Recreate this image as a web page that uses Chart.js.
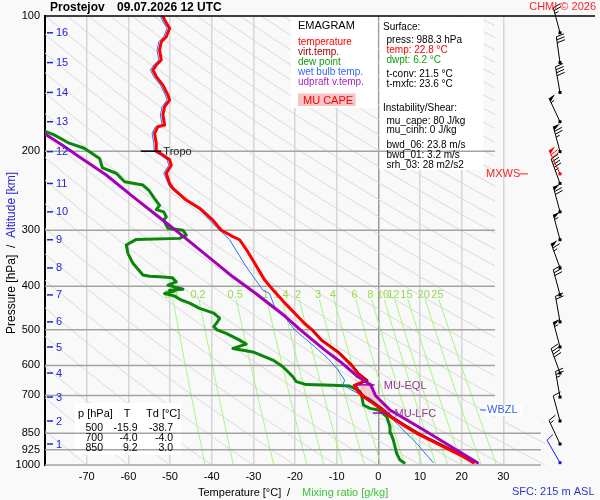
<!DOCTYPE html>
<html>
<head>
<meta charset="utf-8">
<script src="https://cdn.jsdelivr.net/npm/chart.js@4.4.1/dist/chart.umd.min.js"></script>
<style>
  html, body { margin: 0; padding: 0; background: #f9f9f9; }
</style>
</head>
<body>
<canvas id="emagram" width="600" height="500"></canvas>
<script>
// ---- sounding data ----
const pressTicks = [100, 200, 300, 400, 500, 600, 700, 850, 925, 1000];
const tempTicks = [-70, -60, -50, -40, -30, -20, -10, 0, 10, 20, 30];

const tempP = [988.3, 958, 910, 865, 850, 815, 780, 748, 725, 700, 680, 665, 648, 625, 600, 560, 527, 500, 484, 440, 408, 387, 350, 332, 315, 310, 300, 285, 268, 257, 242, 236, 224, 215, 209, 204, 200, 192, 182.5, 176.4, 174.9, 166.2, 159.2, 153.9, 150, 142.5, 136.5, 131.9, 128.6, 125.3, 119.1, 114.1, 111.2, 106.5, 102.1, 100];
const tempT = [22.8, 20.4, 15.6, 10.8, 9.2, 6.0, 2.8, 0.4, -1.6, -4.0, -5.2, -5.8, -2.8, -4.9, -6.4, -9.7, -13.7, -15.9, -17.7, -22.0, -25.2, -27.3, -30.1, -31.6, -33.3, -34.9, -37.7, -39.7, -42.9, -46.1, -49.3, -50.1, -50.9, -49.7, -50.1, -51.7, -53.3, -53.3, -53.7, -52.9, -51.3, -51.7, -51.3, -50.1, -50.5, -51.7, -53.3, -54.1, -53.3, -52.1, -52.5, -52.1, -50.9, -50.1, -51.3, -51.7];

const virtP = [988.3, 958, 910, 865, 850, 815, 780, 748, 725, 700, 680, 665, 648, 625, 600, 560, 527, 500];
const virtT = [23.7, 21.3, 16.4, 11.6, 10.0, 6.7, 3.5, 1.1, -1.0, -3.4, -4.7, -5.3, -2.4, -4.6, -6.1, -9.5, -13.5, -15.8];

const dewP = [988.3, 975, 942, 880, 850, 822, 780, 754, 748, 735, 700, 685, 667, 664, 662, 652, 636, 604, 584, 560, 550, 538, 527, 509, 500, 492, 480, 471, 459, 448, 436, 429, 420, 415, 410, 408, 406, 397.5, 391, 383, 381, 380, 377.5, 355.5, 337.7, 323.6, 314.5, 312.8, 307.5, 300, 297, 285, 280, 273, 270, 264, 255, 245, 238, 234, 224, 218, 207.6, 200, 197, 192, 184, 180];
const dewT = [6.2, 5.2, 4.4, 3.6, 3.0, 2.8, 2.0, 0.0, -2.0, -3.6, -4.0, -4.5, -6.9, -11.0, -17.3, -19.7, -20.5, -22.9, -25.3, -30.1, -34.9, -31.7, -33.3, -36.5, -38.7, -39.5, -38.6, -38.1, -39.5, -42.9, -45.3, -47.3, -49.0, -51.3, -48.9, -50.1, -46.9, -50.5, -48.5, -49.4, -52.5, -54.9, -56.5, -58.9, -60.1, -60.5, -58.1, -47.7, -46.1, -46.9, -50.5, -51.5, -50.9, -51.5, -53.3, -52.5, -53.7, -55.0, -56.5, -60.9, -62.9, -66.2, -66.9, -69.5, -70.6, -74.2, -77.8, -80.5];

const wetP = [988.3, 895, 822, 767, 735, 710, 700, 680, 663, 647, 614, 579, 545, 522, 500, 467, 444, 415, 408, 362, 315, 295, 270, 255, 240, 224, 215, 209, 204, 200, 192, 182.5, 176.4, 174.9, 166.2, 159.2, 153.9, 150, 142.5, 136.5, 131.9, 128.6, 125.3, 119.1, 114.1, 111.2, 106.5, 102.1, 100];
const wetT = [13.2, 9.2, 5.2, 2.0, 0.0, -2.0, -4.0, -6.5, -8.5, -8.1, -9.7, -12.1, -15.3, -17.7, -20.1, -22.5, -24.9, -26.1, -27.7, -31.7, -35.7, -38.9, -42.9, -46.9, -50.1, -51.5, -50.3, -50.7, -52.3, -53.8, -53.9, -54.3, -53.5, -51.9, -52.3, -51.9, -50.7, -51.1, -52.3, -53.9, -54.7, -53.9, -52.7, -53.1, -52.7, -51.5, -50.7, -51.9, -52.3];

const parcelP = [988.3, 926, 835, 754, 700, 663, 636, 592, 554, 509, 500, 467, 415, 381, 341, 305, 277.5, 252.6, 226, 205.8, 194, 182];
const parcelT = [23.8, 18.8, 10.8, 2.8, -0.7, -1.8, -4.9, -8.8, -12.9, -17.7, -18.7, -22.3, -29.4, -34.9, -41.3, -47.7, -53.3, -58.9, -65.3, -71.8, -75.8, -80.5];

// MU CAPE area between LFC and EQL
const capeP = [766, 748, 725, 700, 680, 663];
const capeEnvT = [1.6, 0.4, -1.6, -4.0, -5.2, -5.8];
const capeParcelT = [3.4, 2.2, 0.6, -0.7, -1.3, -1.8];

// altitude marks (km) and the pressure they sit at
const altKm = [1, 2, 3, 4, 5, 6, 7, 8, 9, 10, 11, 12, 13, 14, 15, 16];
const altP = [898, 798, 706, 624, 546, 480, 418, 364, 315, 273, 236, 200.5, 172, 148, 127, 109];

// winds: surface + each km level
const windP = [988.3, 898, 798, 706, 624, 546, 480, 418, 364, 315, 273, 236, 200.5, 172, 148, 127, 109];
const windDir = [330, 335, 345, 350, 340, 345, 350, 345, 340, 345, 345, 340, 345, 335, 350, 352, 345];
const windKt = [10, 15, 10, 25, 40, 55, 20, 30, 65, 55, 70, 45, 75, 55, 40, 30, 25];
const mxwsP = 224.7, mxwsDir = 335, mxwsKt = 70;

// diagram background: dry adiabats (theta, degC) and mixing ratio lines (g/kg)
const dryAdiabats = [-80, -70, -60, -50, -40, -30, -20, -10, 0, 10, 20, 30, 40, 50, 60, 70, 80, 90, 100, 110, 120, 130, 140, 150, 160, 170, 180, 190, 200, 210, 220, 230, 240, 250, 260, 270, 280, 290, 300, 310, 320];
const mixRatios = [0.1, 0.2, 0.5, 1, 1.4, 2, 3, 4, 6, 8, 10, 12, 15, 20, 25];

const FONT = '"Liberation Sans", Arial, sans-serif';

function text(ctx, s, x, y, color, size, align, bold) {
  ctx.font = (bold ? 'bold ' : '') + size + 'px ' + FONT;
  ctx.fillStyle = color;
  ctx.textAlign = align || 'left';
  ctx.textBaseline = 'middle';
  ctx.fillText(s, x, y);
}

function barb(ctx, x, y, dir, kt, color) {
  const L = 26, a = dir * Math.PI / 180;
  const ux = Math.sin(a), uy = -Math.cos(a);
  const px = -uy, py = ux;
  const tx = x + ux * L, ty = y + uy * L;
  ctx.strokeStyle = color; ctx.fillStyle = color; ctx.lineWidth = 1;
  ctx.beginPath(); ctx.moveTo(x, y); ctx.lineTo(tx, ty); ctx.stroke();
  ctx.fillRect(x - 1.5, y - 1.5, 3, 3);
  let s = Math.round(kt / 5) * 5, d = 0;
  const at = k => [tx - ux * k, ty - uy * k];
  while (s >= 50) {
    const [ax, ay] = at(d), [bx, by] = at(d + 4);
    ctx.beginPath(); ctx.moveTo(ax, ay); ctx.lineTo(ax + px * 7 + ux * 1, ay + py * 7 + uy * 1); ctx.lineTo(bx, by); ctx.closePath(); ctx.fill();
    d += 5; s -= 50;
  }
  while (s >= 10) {
    const [ax, ay] = at(d);
    ctx.beginPath(); ctx.moveTo(ax, ay); ctx.lineTo(ax + px * 8 + ux * 2, ay + py * 8 + uy * 2); ctx.stroke();
    d += 3; s -= 10;
  }
  if (s >= 5) {
    if (d === 0) d = 3;
    const [ax, ay] = at(d);
    ctx.beginPath(); ctx.moveTo(ax, ay); ctx.lineTo(ax + px * 4 + ux * 1, ay + py * 4 + uy * 1); ctx.stroke();
  }
}

const emagramPlugin = {
  id: 'emagram',
  beforeDraw(chart) {
    const ctx = chart.ctx;
    ctx.save();
    ctx.fillStyle = '#f9f9f9';
    ctx.fillRect(0, 0, chart.width, chart.height);
    ctx.restore();
  },
  beforeDatasetsDraw(chart) {
    const {ctx, chartArea: a, scales: {x, y}} = chart;
    const X = t => x.getPixelForValue(t), Y = p => y.getPixelForValue(p);
    const xCut = X(28), yCut = Y(800);

    // dry adiabats
    ctx.save();
    ctx.beginPath();
    ctx.rect(a.left, a.top, xCut - a.left, a.bottom - a.top);
    ctx.rect(xCut, yCut, a.right - xCut, a.bottom - yCut);
    ctx.clip();
    ctx.strokeStyle = '#d9d9d9'; ctx.lineWidth = 1;
    dryAdiabats.forEach(th => {
      ctx.beginPath();
      for (let p = 100; p <= 1000; p += 10) {
        const t = (th + 273.15) * Math.pow(p / 1000, 0.2857) - 273.15;
        if (p === 100) ctx.moveTo(X(t), Y(p)); else ctx.lineTo(X(t), Y(p));
      }
      ctx.stroke();
    });
    ctx.restore();

    // mixing ratio lines
    const tdOf = (w, p) => {
      const e = w * p / (622 + w), l = Math.log(e / 6.112);
      return 243.5 * l / (17.67 - l);
    };
    ctx.save();
    ctx.beginPath(); ctx.rect(a.left, a.top, a.right - a.left, a.bottom - a.top); ctx.clip();
    ctx.strokeStyle = '#a6f77e'; ctx.lineWidth = 1;
    mixRatios.forEach(w => {
      ctx.beginPath();
      for (let p = 428; p <= 1000; p += 16) {
        if (p === 428) ctx.moveTo(X(tdOf(w, p)), Y(p)); else ctx.lineTo(X(tdOf(w, p)), Y(p));
      }
      ctx.lineTo(X(tdOf(w, 1000)), Y(1000));
      ctx.stroke();
      text(ctx, String(w), X(tdOf(w, 418)), Y(418), '#96dc4a', 11, 'center');
    });
    ctx.restore();

    // white info boxes
    ctx.fillStyle = '#ffffff';
    ctx.fillRect(291, 17, 86, 91);
    ctx.fillRect(379.5, 17, 104, 153);
    ctx.fillRect(75, 403, 106, 52);
    ctx.fillRect(485, 405, 37, 11);

    // pressure lines
    ctx.strokeStyle = '#a3a3a3'; ctx.lineWidth = 1.5;
    pressTicks.forEach(p => {
      if (p === 100) return;
      ctx.beginPath();
      ctx.moveTo(a.left, Y(p));
      ctx.lineTo(p < 800 ? xCut : X(39), Y(p));
      ctx.stroke();
    });

    // MU CAPE area
    ctx.beginPath();
    capeP.forEach((p, i) => { const px = X(capeEnvT[i]), py = Y(p); i ? ctx.lineTo(px, py) : ctx.moveTo(px, py); });
    for (let i = capeP.length - 1; i >= 0; i--) ctx.lineTo(X(capeParcelT[i]), Y(capeP[i]));
    ctx.closePath();
    ctx.fillStyle = '#f7c9c9';
    ctx.fill();
  },
  afterDatasetsDraw(chart) {
    const {ctx, chartArea: a, scales: {x, y}} = chart;
    const X = t => x.getPixelForValue(t), Y = p => y.getPixelForValue(p);
    ctx.save();

    // top frame line
    ctx.strokeStyle = '#000'; ctx.lineWidth = 1.5;
    ctx.beginPath(); ctx.moveTo(a.left, Y(100)); ctx.lineTo(595, Y(100)); ctx.stroke();

    // altitude labels
    ctx.strokeStyle = '#2222dd'; ctx.lineWidth = 1.5;
    altKm.forEach((k, i) => {
      const yy = Y(altP[i]);
      ctx.beginPath(); ctx.moveTo(47, yy); ctx.lineTo(53, yy); ctx.stroke();
      text(ctx, String(k), 56, yy + 0.5, '#2222dd', 11);
    });

    // tropopause
    ctx.strokeStyle = '#000'; ctx.lineWidth = 1.5;
    ctx.beginPath(); ctx.moveTo(X(-57), Y(200)); ctx.lineTo(X(-52.1), Y(200)); ctx.stroke();
    text(ctx, 'Tropo', X(-51.6), Y(200) + 1, '#222', 11);

    // EQL / LFC
    ctx.strokeStyle = '#a400b8'; ctx.lineWidth = 1.5;
    ctx.beginPath(); ctx.moveTo(X(-5.4), Y(663)); ctx.lineTo(X(-0.9), Y(663)); ctx.stroke();
    ctx.beginPath(); ctx.moveTo(X(-1.3), Y(766)); ctx.lineTo(X(2.8), Y(766)); ctx.stroke();
    text(ctx, 'MU-EQL', X(1.3), Y(663) + 1, '#993399', 11);
    text(ctx, 'MU-LFC', X(3.9), Y(766) + 1, '#993399', 11);

    // MXWS and WBZL
    text(ctx, 'MXWS', 486, Y(mxwsP), '#ff2020', 11);
    ctx.strokeStyle = '#ff2020'; ctx.lineWidth = 1;
    ctx.beginPath(); ctx.moveTo(520, Y(mxwsP)); ctx.lineTo(528, Y(mxwsP)); ctx.stroke();
    ctx.strokeStyle = '#3366ee';
    ctx.beginPath(); ctx.moveTo(480, Y(754)); ctx.lineTo(486, Y(754)); ctx.stroke();
    text(ctx, 'WBZL', 487, Y(754) + 0.5, '#3366ee', 11);

    // wind barbs
    windP.forEach((p, i) => barb(ctx, 560, Y(p), windDir[i], windKt[i], i === 0 ? '#1a1aee' : '#000'));
    barb(ctx, 560, Y(mxwsP), mxwsDir, mxwsKt, '#ff0000');

    // legend box
    text(ctx, 'EMAGRAM', 298, 26, '#000', 11);
    text(ctx, 'temperature', 298, 42, '#ff0000', 10);
    text(ctx, 'virt.temp.', 298, 52, '#a00000', 10);
    text(ctx, 'dew point', 298, 62, '#119911', 10);
    text(ctx, 'wet bulb temp.', 298, 72, '#3366ff', 10);
    text(ctx, 'udpraft v.temp.', 298, 82, '#aa22cc', 10);
    ctx.fillStyle = '#f6c4c4';
    ctx.fillRect(298, 93.5, 57.5, 12.5);
    text(ctx, 'MU CAPE', 303, 100.5, '#ff0000', 11);

    // surface / instability box
    const sx = 383, ix = 386.5;
    text(ctx, 'Surface:', sx, 27.5, '#000', 10);
    text(ctx, 'press: 988.3 hPa', ix, 40, '#000', 10);
    text(ctx, 'temp: 22.8 \u00b0C', ix, 50, '#ff0000', 10);
    text(ctx, 'dwpt: 6.2 \u00b0C', ix, 60, '#119911', 10);
    text(ctx, 't-conv: 21.5 \u00b0C', ix, 74, '#000', 10);
    text(ctx, 't-mxfc: 23.6 \u00b0C', ix, 84.5, '#000', 10);
    text(ctx, 'Instability/Shear:', sx, 108.5, '#000', 10);
    text(ctx, 'mu_cape: 80 J/kg', ix, 121, '#000', 10);
    text(ctx, 'mu_cinh: 0 J/kg', ix, 130.5, '#000', 10);
    text(ctx, 'bwd_06: 23.8 m/s', ix, 145, '#000', 10);
    text(ctx, 'bwd_01: 3.2 m/s', ix, 155, '#000', 10);
    text(ctx, 'srh_03: 28 m2/s2', ix, 165, '#000', 10);

    // level table
    text(ctx, 'p [hPa]', 78, 414, '#000', 11);
    text(ctx, 'T', 127, 414, '#000', 11, 'center');
    text(ctx, 'Td [\u00b0C]', 146, 414, '#000', 11);
    [['500', '-15.9', '-38.7'], ['700', '-4.0', '-4.0'], ['850', '9.2', '3.0']].forEach((r, i) => {
      const yy = 428.5 + i * 10;
      text(ctx, r[0], 103, yy, '#000', 10.5, 'right');
      text(ctx, r[1], 137.5, yy, '#000', 10.5, 'right');
      text(ctx, r[2], 173, yy, '#000', 10.5, 'right');
    });

    // titles
    text(ctx, 'Prostejov', 50, 7.5, '#000', 12, 'left', true);
    text(ctx, '09.07.2026 12 UTC', 117, 7.5, '#000', 12, 'left', true);
    text(ctx, 'CHMI \u00a9 2026', 596, 7, '#ff2020', 11, 'right');
    text(ctx, 'Temperature [\u00b0C]', 198, 493, '#000', 11);
    text(ctx, '/', 287, 493, '#000', 11);
    text(ctx, 'Mixing ratio [g/kg]', 302, 493, '#3cc43c', 11);
    text(ctx, 'SFC: 215 m ASL', 512, 492, '#3333cc', 11);

    ctx.translate(12, 334);
    ctx.rotate(-Math.PI / 2);
    ctx.font = '12px ' + FONT;
    const p1 = 'Pressure [hPa]', p2 = '  /  ', p3 = 'Altitude [km]';
    text(ctx, p1, 0, 0, '#000', 12);
    const w1 = ctx.measureText(p1).width;
    text(ctx, p2, w1, 0, '#000', 12);
    const w2 = ctx.measureText(p2).width;
    text(ctx, p3, w1 + w2, 0, '#2222dd', 12);
    ctx.restore();
  }
};

const pts = (P, T) => P.map((p, i) => ({x: T[i], y: p}));
const series = (label, P, T, color, width, order) => ({
  label, data: pts(P, T), showLine: true, borderColor: color, backgroundColor: color,
  borderWidth: width, pointRadius: 0, fill: false, tension: 0, order,
  borderJoinStyle: 'round', borderCapStyle: 'round'
});

new Chart(document.getElementById('emagram'), {
  type: 'scatter',
  data: {
    datasets: [
      series('udpraft v.temp.', parcelP, parcelT, '#a400b8', 3, 0),
      series('virt.temp.', virtP, virtT, '#a00000', 1, 1),
      series('temperature', tempP, tempT, '#ff0000', 3, 2),
      series('wet bulb temp.', wetP, wetT, '#2f6fff', 1, 3),
      series('dew point', dewP, dewT, '#0a870a', 3, 4)
    ]
  },
  options: {
    responsive: false,
    animation: false,
    layout: { padding: { left: 0, top: 16, right: 55, bottom: 0 } },
    plugins: { legend: { display: false }, tooltip: { enabled: false } },
    scales: {
      x: {
        type: 'linear', min: -80, max: 40,
        afterBuildTicks: s => { s.ticks = tempTicks.map(v => ({value: v})); },
        afterFit: s => { s.height = 35; },
        grid: { color: c => (c.tick && c.tick.value === 0 ? '#999999' : '#d6d6d6'), lineWidth: 1.5, drawTicks: false },
        border: { display: false },
        ticks: { autoSkip: false, maxRotation: 0, padding: 5, color: '#000', font: { family: FONT, size: 11 }, callback: v => String(v) }
      },
      y: {
        type: 'logarithmic', min: 100, max: 1000, reverse: true,
        afterBuildTicks: s => { s.ticks = pressTicks.map(v => ({value: v})); },
        afterFit: s => { s.width = 45; },
        grid: { drawOnChartArea: false, drawTicks: false },
        border: { display: true, color: '#000', width: 2 },
        ticks: { autoSkip: false, padding: 5, color: '#000', font: { family: FONT, size: 11 }, callback: v => String(v) }
      }
    }
  },
  plugins: [emagramPlugin]
});
</script>
</body>
</html>
